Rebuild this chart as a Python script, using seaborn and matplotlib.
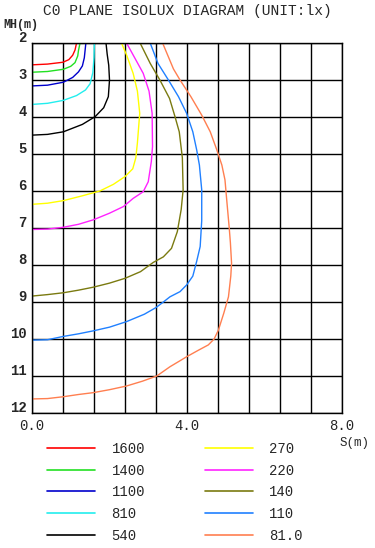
import numpy as np
import pandas as pd
import matplotlib
matplotlib.use('Agg')
import matplotlib.pyplot as plt
import matplotlib.transforms as mtransforms
from matplotlib.lines import Line2D
import seaborn as sns

# isolux levels (lx) and their colours
levels = ['1600', '1400', '1100', '810', '540', '270', '220', '140', '110', '81.0']
colors = ['#ff0000', '#22e022', '#0000cc', '#22eeee', '#000000',
          '#ffff00', '#ff22ff', '#7a7a10', '#2080ff', '#ff7f50']

# contour points: S (m) and MH (m)
s_1600 = [0, 0.4, 0.8, 0.95, 1.05, 1.11, 1.15]
mh_1600 = [2.59, 2.57, 2.52, 2.45, 2.33, 2.19, 2.0]

s_1400 = [0, 0.4, 0.81, 1.0, 1.11, 1.18, 1.2, 1.24]
mh_1400 = [2.79, 2.77, 2.71, 2.63, 2.53, 2.35, 2.2, 2.0]

s_1100 = [0, 0.4, 0.81, 1.05, 1.2, 1.3, 1.35, 1.37, 1.39]
mh_1100 = [3.16, 3.14, 3.06, 2.93, 2.78, 2.62, 2.4, 2.2, 2.0]

s_810 = [0, 0.4, 0.81, 1.15, 1.38, 1.5, 1.57, 1.6, 1.61]
mh_810 = [3.66, 3.63, 3.55, 3.42, 3.27, 3.1, 2.8, 2.4, 2.0]

s_540 = [0, 0.4, 0.81, 1.3, 1.63, 1.85, 1.97, 2.0, 1.98, 1.94, 1.91]
mh_540 = [4.49, 4.47, 4.40, 4.2, 3.99, 3.75, 3.45, 3.0, 2.6, 2.3, 2.0]

s_270 = [0, 0.4, 0.81, 1.3, 1.75, 2.1, 2.4, 2.6, 2.68, 2.72, 2.78, 2.72, 2.61, 2.45, 2.31]
mh_270 = [6.36, 6.33, 6.26, 6.13, 6.0, 5.82, 5.61, 5.4, 5.1, 4.7, 3.9, 3.3, 2.82, 2.35, 2.0]

s_220 = [0, 0.4, 0.81, 1.2, 1.58, 2.0, 2.36, 2.61, 2.87, 3.0, 3.08, 3.11, 3.1, 3.02, 2.87, 2.65, 2.44]
mh_220 = [7.04, 7.03, 6.98, 6.9, 6.78, 6.6, 6.42, 6.2, 6.02, 5.75, 5.2, 4.8, 3.9, 3.3, 2.82, 2.4, 2.0]

s_140 = [0, 0.4, 0.81, 1.2, 1.58, 2.0, 2.4, 2.8, 3.13, 3.39, 3.6, 3.75, 3.85, 3.90,
         3.88, 3.80, 3.69, 3.55, 3.30, 3.05, 2.79]
mh_140 = [8.84, 8.8, 8.75, 8.68, 8.6, 8.49, 8.36, 8.18, 7.93, 7.78, 7.55, 7.1, 6.5, 5.97,
          5.1, 4.4, 3.99, 3.5, 3.0, 2.55, 2.0]

s_110 = [0, 0.4, 0.81, 1.2, 1.58, 2.0, 2.44, 2.9, 3.2, 3.39, 3.56, 3.82, 3.99, 4.15, 4.25,
         4.34, 4.38, 4.38, 4.32, 4.25, 4.15, 3.99, 3.78, 3.52, 3.25, 3.05]
mh_110 = [10.03, 10.02, 9.93, 9.86, 9.78, 9.68, 9.53, 9.33, 9.15, 9.0, 8.86, 8.72, 8.54, 8.3, 7.9,
          7.5, 6.8, 5.97, 5.3, 4.89, 4.4, 3.9, 3.45, 3.0, 2.55, 2.0]

s_81 = [0, 0.4, 0.81, 1.2, 1.58, 2.0, 2.44, 2.85, 3.22, 3.56, 3.8, 3.99, 4.3, 4.55, 4.7, 4.81,
        4.95, 5.07, 5.13, 5.15, 5.12, 5.09, 5.03, 4.98, 4.9, 4.77, 4.6, 4.38, 4.1, 3.82,
        3.65, 3.55, 3.45, 3.37]
mh_81 = [11.62, 11.61, 11.56, 11.5, 11.45, 11.37, 11.27, 11.14, 11.0, 10.75, 10.6, 10.48, 10.3,
         10.16, 10.0, 9.76, 9.3, 8.86, 8.3, 7.95, 7.4, 7.0, 6.3, 5.7, 5.3, 4.89, 4.4, 3.95,
         3.45, 3.0, 2.7, 2.45, 2.2, 2.0]

curves = [(s_1600, mh_1600), (s_1400, mh_1400), (s_1100, mh_1100), (s_810, mh_810),
          (s_540, mh_540), (s_270, mh_270), (s_220, mh_220), (s_140, mh_140),
          (s_110, mh_110), (s_81, mh_81)]

frames = []
for lvl, (s, mh) in zip(levels, curves):
    frames.append(pd.DataFrame({'s': s, 'mh': mh, 'level': lvl}))
df = pd.concat(frames, ignore_index=True)

sns.set_style('white')
plt.rcParams['font.family'] = ['Liberation Mono', 'DejaVu Sans Mono']

fig = plt.figure(figsize=(3.75, 5.48), dpi=100)
ax = fig.add_axes([32 / 375, 1 - 413 / 548, 310 / 375, 370 / 548])

sns.lineplot(data=df, x='s', y='mh', hue='level', hue_order=levels, palette=colors,
             sort=False, estimator=None, legend=False, linewidth=1.0, ax=ax)

ax.set_xlim(0, 8)
ax.set_ylim(12, 2)

xt = np.arange(0, 8.01, 0.8)
ax.set_xticks(xt)
ax.set_xticklabels(['0.0' if i == 0 else '4.0' if i == 5 else '8.0' if i == 10 else ''
                    for i in range(len(xt))], fontsize=10)
ax.set_yticks(range(2, 13))
ax.set_yticklabels([str(v) for v in range(2, 13)], fontsize=10, fontweight='bold')
ax.tick_params(length=0, pad=4)
offset = mtransforms.ScaledTranslation(0, 5 / 72, fig.dpi_scale_trans)
for lbl in ax.get_yticklabels():
    lbl.set_transform(lbl.get_transform() + offset)

ax.grid(True, color='black', linewidth=1.0)
for sp in ax.spines.values():
    sp.set_color('black')
    sp.set_linewidth(1.0)
ax.set_xlabel('')
ax.set_ylabel('')

fig.text(0.5, 1 - 11 / 548, 'C0 PLANE ISOLUX DIAGRAM (UNIT:lx)', ha='center', va='center',
         fontsize=10.5)
fig.text(3 / 375, 1 - 25 / 548, 'MH(m)', ha='left', va='center', fontsize=8.5, fontweight='bold')
fig.text(340 / 375, 1 - 443 / 548, 'S(m)', ha='left', va='center', fontsize=9)

handles = [Line2D([], [], color=c, linewidth=1.2) for c in colors]
fig.legend(handles, levels, ncol=2, frameon=False, loc='upper left',
           bbox_to_anchor=(47 / 375, 1 - 442 / 548), fontsize=10,
           handlelength=3.45, handletextpad=1.2, columnspacing=4.3,
           labelspacing=0.55, borderpad=0, borderaxespad=0)

fig.savefig('out.png', dpi=100)
